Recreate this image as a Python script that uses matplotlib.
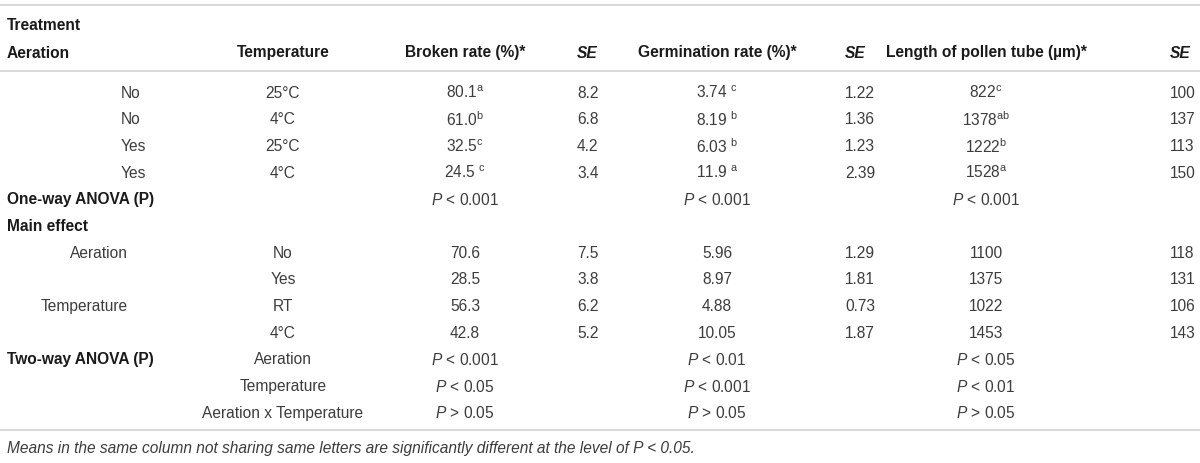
import matplotlib
matplotlib.use('Agg')
import matplotlib.pyplot as plt

plt.rcParams['font.family'] = ['Liberation Sans', 'DejaVu Sans']
plt.rcParams['mathtext.fontset'] = 'custom'
plt.rcParams['mathtext.rm'] = 'Liberation Sans'
plt.rcParams['mathtext.it'] = 'Liberation Sans:italic'
plt.rcParams['mathtext.bf'] = 'Liberation Sans:bold'

#===== data
headers = ['Broken rate (%)*', 'Germination rate (%)*', 'Length of pollen tube (µm)*']

aeration = ['No', 'No', 'Yes', 'Yes']
temperature = ['25°C', '4°C', '25°C', '4°C']
broken = ['80.1', '61.0', '32.5', '24.5 ']
broken_sig = ['a', 'b', 'c', 'c']
broken_se = ['8.2', '6.8', '4.2', '3.4']
germ = ['3.74 ', '8.19 ', '6.03 ', '11.9 ']
germ_sig = ['c', 'b', 'b', 'a']
germ_se = ['1.22', '1.36', '1.23', '2.39']
tube = ['822', '1378', '1222', '1528']
tube_sig = ['c', 'ab', 'b', 'a']
tube_se = ['100', '137', '113', '150']

oneway = ['< 0.001', '< 0.001', '< 0.001']

main_factor = ['Aeration', '', 'Temperature', '']
main_level = ['No', 'Yes', 'RT', '4°C']
main_broken = ['70.6', '28.5', '56.3', '42.8']
main_broken_se = ['7.5', '3.8', '6.2', '5.2']
main_germ = ['5.96', '8.97', '4.88', '10.05']
main_germ_se = ['1.29', '1.81', '0.73', '1.87']
main_tube = ['1100', '1375', '1022', '1453']
main_tube_se = ['118', '131', '106', '143']

twoway_terms = ['Aeration', 'Temperature', 'Aeration x Temperature']
twoway_broken = ['< 0.001', '< 0.05', '> 0.05']
twoway_germ = ['< 0.01', '< 0.001', '> 0.05']
twoway_tube = ['< 0.05', '< 0.01', '> 0.05']

footnote = 'Means in the same column not sharing same letters are significantly different at the level of P < 0.05.'

#===== layout (pixels)
W, H = 1200, 464
x_left = 7
x_treat = 121      # left aligned treatment values
x_factor = 128     # right aligned main effect factors
x_temp = 283
x_val = [465, 717, 986]
x_se = [577, 845, 1170]
row_h = 26.7
y_treat_hdr = 26
y_hdr = 53
y0 = 93
fs = 11.2
dark = '#1a1a1a'
txt = '#3c3c3c'
line_c = '#d6d6d6'

fig = plt.figure(figsize=(12, 4.64), dpi=100)
ax = fig.add_axes([0, 0, 1, 1])
ax.set_xlim(0, W)
ax.set_ylim(H, 0)
ax.axis('off')


def t(x, y, s, ha='center', bold=False, italic=False, color=txt):
    ax.text(x, y, s, ha=ha, va='center', fontsize=fs,
            fontweight='bold' if bold else 'normal',
            fontstyle='italic' if italic else 'normal',
            color=dark if bold else color)


def sup(v, s):
    return v + r'$^{\mathrm{' + s + '}}$'


def pval(s):
    return r'$P$ ' + s


# rules
for y in [6, 72, 431]:
    ax.plot([0, W], [y, y], color=line_c, lw=1.3, solid_capstyle='butt')

# header
t(x_left, y_treat_hdr, 'Treatment', ha='left', bold=True)
t(x_left, y_hdr, 'Aeration', ha='left', bold=True)
t(x_temp, y_hdr, 'Temperature', bold=True)
for i in range(3):
    t(x_val[i], y_hdr, headers[i], bold=True)
    ax.text(x_se[i], y_hdr, 'SE', ha='left', va='center', fontsize=fs,
            fontweight='bold', fontstyle='italic', color=dark)

# treatment rows
for i in range(4):
    y = y0 + i * row_h
    t(x_treat, y, aeration[i], ha='left')
    t(x_temp, y, temperature[i])
    t(x_val[0], y, sup(broken[i], broken_sig[i]))
    t(x_se[0], y, broken_se[i], ha='left')
    t(x_val[1], y, sup(germ[i], germ_sig[i]))
    t(x_se[1], y, germ_se[i], ha='left')
    t(x_val[2], y, sup(tube[i], tube_sig[i]))
    t(x_se[2], y, tube_se[i], ha='left')

# one-way ANOVA
y = y0 + 4 * row_h
t(x_left, y, 'One-way ANOVA (P)', ha='left', bold=True)
for i in range(3):
    t(x_val[i], y, pval(oneway[i]))

# main effect
y = y0 + 5 * row_h
t(x_left, y, 'Main effect', ha='left', bold=True)
for i in range(4):
    y = y0 + (6 + i) * row_h
    if main_factor[i]:
        t(x_factor, y, main_factor[i], ha='right')
    t(x_temp, y, main_level[i])
    t(x_val[0], y, main_broken[i])
    t(x_se[0], y, main_broken_se[i], ha='left')
    t(x_val[1], y, main_germ[i])
    t(x_se[1], y, main_germ_se[i], ha='left')
    t(x_val[2], y, main_tube[i])
    t(x_se[2], y, main_tube_se[i], ha='left')

# two-way ANOVA
y = y0 + 10 * row_h
t(x_left, y, 'Two-way ANOVA (P)', ha='left', bold=True)
for i in range(3):
    y = y0 + (10 + i) * row_h
    t(x_temp, y, twoway_terms[i])
    t(x_val[0], y, pval(twoway_broken[i]))
    t(x_val[1], y, pval(twoway_germ[i]))
    t(x_val[2], y, pval(twoway_tube[i]))

# footnote
t(x_left, 449, footnote, ha='left', italic=True)

fig.savefig('out.png', dpi=100)
